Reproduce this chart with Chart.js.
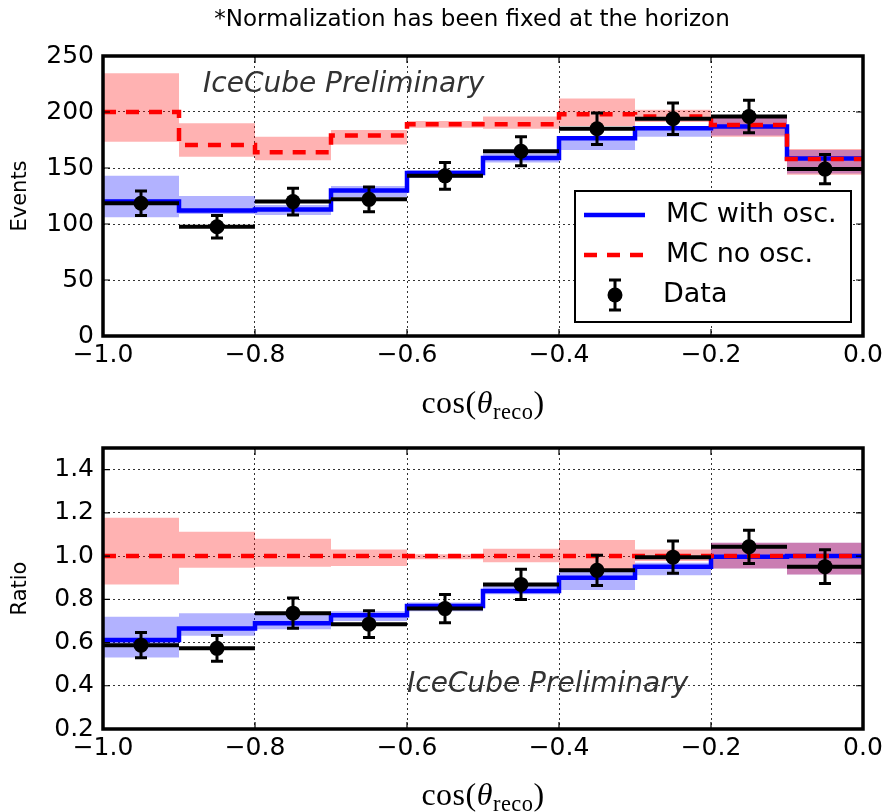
<!DOCTYPE html>
<html><head><meta charset="utf-8">
<script src="https://cdn.jsdelivr.net/npm/chart.js@4.4.1/dist/chart.umd.min.js"></script>
<style>
html,body{margin:0;padding:0;background:#fff;}
#wrap{position:relative;width:884px;height:812px;overflow:hidden;background:#fff;}
canvas{position:absolute;left:0;top:0;}
.lbl{position:absolute;white-space:nowrap;color:#000;line-height:1;}
#title{font-family:'DejaVu Sans';font-size:23px;left:472px;top:18px;transform:translate(-50%,-50%);}
.xl{font-family:'Liberation Serif';font-size:32px;letter-spacing:0.5px;transform:translate(-50%,-50%);left:483px;}
.xl sub{font-size:0.7em;vertical-align:-0.25em;line-height:0;}
</style></head>
<body><div id="wrap">
<canvas id="c1" width="884" height="812"></canvas>
<canvas id="c2" width="884" height="812"></canvas>
<div id="title" class="lbl">*Normalization has been fixed at the horizon</div>
<div class="lbl xl" style="top:402px">cos(<i>θ</i><sub>reco</sub>)</div>
<div class="lbl xl" style="top:794px">cos(<i>θ</i><sub>reco</sub>)</div>
</div>
<script>
// ---------- data ----------
const binEdges = [-1.0,-0.9,-0.8,-0.7,-0.6,-0.5,-0.4,-0.3,-0.2,-0.1,0.0];
const xTickValues = [-1.0,-0.8,-0.6,-0.4,-0.2,0.0];
const xTickLabels = ['\u22121.0','\u22120.8','\u22120.6','\u22120.4','\u22120.2','0.0'];
const eventsTickValues = [0,50,100,150,200,250];
const eventsTickLabels = ['0','50','100','150','200','250'];
const ratioTickValues = [0.2,0.4,0.6,0.8,1.0,1.2,1.4];
const ratioTickLabels = ['0.2','0.4','0.6','0.8','1.0','1.2','1.4'];

const mcOsc      = [120,112,113,130,145.5,159,176.5,185.5,187,158.5];
const mcOscLo    = [106,109,108,124,141,155,166,178,179,145];
const mcOscHi    = [143,125,117,134,148,163,178,187,195,166];
const mcNoOsc    = [200,170.5,164,179,189,189,198,196,188.5,158];
const mcNoOscLo  = [173.5,160,157,171,186,185,187.5,191,178,144];
const mcNoOscHi  = [234.5,190,178,184,192,196,212,202,197,167];
const dataEvents    = [118.5,97.5,120,122,143,165,185,194,196,149];
const dataEventsErr = [11,10,12,11,12,13,14,14,14.5,13];

const ratioOsc      = [0.612,0.665,0.689,0.726,0.769,0.838,0.900,0.951,0.997,1.0];
const ratioOscLo    = [0.531,0.631,0.662,0.700,0.745,0.823,0.843,0.911,0.942,0.915];
const ratioOscHi    = [0.719,0.736,0.736,0.745,0.785,0.869,0.938,0.969,1.062,1.062];
const ratioNoOsc    = [1,1,1,1,1,1,1,1,1,1];
const ratioNoOscLo  = [0.869,0.946,0.951,0.954,0.985,0.972,0.940,0.977,0.942,0.915];
const ratioNoOscHi  = [1.177,1.113,1.080,1.031,1.008,1.034,1.074,1.031,1.062,1.062];
const ratioData     = [0.588,0.573,0.736,0.685,0.757,0.869,0.934,0.995,1.043,0.951];
const ratioDataErr  = [0.058,0.060,0.070,0.062,0.065,0.070,0.070,0.075,0.077,0.078];

// ---------- helpers ----------
const FONT = 'DejaVu Sans';
const centers = binEdges.slice(0,-1).map((e,i)=>(e+binEdges[i+1])/2);
function stepPts(vals){
  const p = vals.map((v,i)=>({x:binEdges[i], y:v}));
  p.push({x:binEdges[binEdges.length-1], y:vals[vals.length-1]});
  return p;
}
function bandPts(lo,hi){ return lo.map((l,i)=>({x:centers[i], y:[l,hi[i]]})); }
function pts(vals){ return vals.map((v,i)=>({x:centers[i], y:v})); }

const framePlugin = {
  id: 'frame',
  beforeDatasetDraw(chart, args) {
    const ds = chart.data.datasets[args.index];
    if (!ds.errorBars) return;
    const {ctx} = chart; const x = chart.scales.x, y = chart.scales.y;
    ctx.save();
    ctx.strokeStyle = '#000'; ctx.lineCap = 'butt';
    ds.data.forEach((p,i)=>{
      const px = x.getPixelForValue(p.x);
      const x0 = x.getPixelForValue(binEdges[i]), x1 = x.getPixelForValue(binEdges[i+1]);
      const py = y.getPixelForValue(p.y);
      const ylo = y.getPixelForValue(p.y - ds.errorBars[i]);
      const yhi = y.getPixelForValue(p.y + ds.errorBars[i]);
      ctx.lineWidth = 4;
      ctx.beginPath(); ctx.moveTo(x0,py); ctx.lineTo(x1,py); ctx.stroke();
      ctx.lineWidth = 3;
      ctx.beginPath(); ctx.moveTo(px,ylo); ctx.lineTo(px,yhi);
      ctx.moveTo(px-6,ylo); ctx.lineTo(px+6,ylo);
      ctx.moveTo(px-6,yhi); ctx.lineTo(px+6,yhi); ctx.stroke();
    });
    ctx.restore();
  },
  afterDatasetsDraw(chart, args, opts) {
    const {ctx, chartArea:a} = chart; const x = chart.scales.x, y = chart.scales.y;
    ctx.save();
    // inward ticks
    ctx.strokeStyle = '#000'; ctx.lineWidth = 1.2;
    ctx.beginPath();
    x.ticks.forEach(t=>{ const px = x.getPixelForValue(t.value);
      ctx.moveTo(px,a.top); ctx.lineTo(px,a.top+7); ctx.moveTo(px,a.bottom); ctx.lineTo(px,a.bottom-7); });
    y.ticks.forEach(t=>{ const py = y.getPixelForValue(t.value);
      ctx.moveTo(a.left,py); ctx.lineTo(a.left+7,py); ctx.moveTo(a.right,py); ctx.lineTo(a.right-7,py); });
    ctx.stroke();
    // frame
    ctx.lineWidth = 3.5; ctx.strokeRect(a.left, a.top, a.right-a.left, a.bottom-a.top);
    // preliminary label
    ctx.fillStyle = '#333';
    ctx.font = 'italic 28px "' + FONT + '"';
    ctx.textBaseline = 'middle'; ctx.textAlign = 'left';
    ctx.fillText(opts.label, a.left + opts.lx, a.top + opts.ly);
    // legend
    if (opts.legend) {
      const bx = a.right - 288, by = a.top + 135, bw = 276, bh = 131;
      ctx.fillStyle = '#fff'; ctx.fillRect(bx,by,bw,bh);
      ctx.strokeStyle = '#000'; ctx.lineWidth = 2; ctx.strokeRect(bx,by,bw,bh);
      const rows = [by+24, by+64, by+104];
      ctx.lineWidth = 4.5;
      ctx.strokeStyle = '#0000ff'; ctx.beginPath(); ctx.moveTo(bx+9,rows[0]); ctx.lineTo(bx+70,rows[0]); ctx.stroke();
      ctx.strokeStyle = '#ff0000'; ctx.setLineDash([13,10]); ctx.beginPath(); ctx.moveTo(bx+9,rows[1]); ctx.lineTo(bx+70,rows[1]); ctx.stroke();
      ctx.setLineDash([]);
      const mx = bx+40, my = rows[2];
      ctx.strokeStyle = '#000'; ctx.lineWidth = 3;
      ctx.beginPath(); ctx.moveTo(mx,my-15); ctx.lineTo(mx,my+15);
      ctx.moveTo(mx-6,my-15); ctx.lineTo(mx+6,my-15); ctx.moveTo(mx-6,my+15); ctx.lineTo(mx+6,my+15); ctx.stroke();
      ctx.fillStyle = '#000'; ctx.beginPath(); ctx.arc(mx,my,7.5,0,Math.PI*2); ctx.fill();
      ctx.font = '27px "' + FONT + '"'; ctx.fillStyle = '#000'; ctx.textAlign = 'left';
      ctx.fillText(opts.legendLabels[0], bx+91, rows[0]);
      ctx.fillText(opts.legendLabels[1], bx+91, rows[1]);
      ctx.fillText(opts.legendLabels[2], bx+88, rows[2]);
    }
    ctx.restore();
  }
};

function makeChart(id, cfg) {
  const xAxisH = 40;
  return new Chart(document.getElementById(id), {
    type: 'line',
    data: { datasets: [
      { type:'scatter', label:'Data', data: pts(cfg.data), errorBars: cfg.err, order:0,
        pointRadius:7.5, pointHoverRadius:7.5, backgroundColor:'#000', borderWidth:0, showLine:false },
      { label:'MC no osc.', data: stepPts(cfg.noOsc), stepped:true, order:1,
        borderColor:'#ff0000', borderWidth:4.5, borderDash:[13,10], pointRadius:0, fill:false },
      { label:'MC with osc.', data: stepPts(cfg.osc), stepped:true, order:2,
        borderColor:'#0000ff', borderWidth:4.5, pointRadius:0, fill:false },
      { type:'bar', label:'no osc band', data: bandPts(cfg.noOscLo, cfg.noOscHi), order:3, grouped:false,
        backgroundColor:'rgba(255,0,0,0.3)', borderWidth:0, barPercentage:1, categoryPercentage:1, inflateAmount:0 },
      { type:'bar', label:'osc band', data: bandPts(cfg.oscLo, cfg.oscHi), order:4, grouped:false,
        backgroundColor:'rgba(0,0,255,0.3)', borderWidth:0, barPercentage:1, categoryPercentage:1, inflateAmount:0 }
    ]},
    options: {
      responsive:false, animation:false, devicePixelRatio:1,
      layout: { padding: { left:0, right:21, top: cfg.top, bottom: 812 - cfg.bottom - xAxisH } },
      plugins: { legend:{display:false}, tooltip:{enabled:false},
        frame: { label:'IceCube Preliminary', lx: cfg.lx, ly: cfg.ly, legend: cfg.legend,
                 legendLabels:['MC with osc.','MC no osc.','Data'] } },
      scales: {
        x: { type:'linear', min:-1, max:0, offset:false,
          afterBuildTicks: s => { s.ticks = xTickValues.map(v=>({value:v})); },
          afterFit: s => { s.height = xAxisH; s.paddingLeft = 0; s.paddingRight = 0; },
          grid: { offset:false, color:'rgba(0,0,0,0.8)', lineWidth:1, drawTicks:false },
          border: { display:false, dash:[2,3] },
          ticks: { autoSkip:false, maxRotation:0, padding:4, color:'#000',
            font:{family:FONT, size:25}, callback:(v,i)=>xTickLabels[i] } },
        y: { type:'linear', min:cfg.ymin, max:cfg.ymax,
          afterBuildTicks: s => { s.ticks = cfg.yTicks.map(v=>({value:v})); },
          afterFit: s => { s.width = 103; s.paddingTop = 0; s.paddingBottom = 0; },
          grid: { color:'rgba(0,0,0,0.8)', lineWidth:1, drawTicks:false },
          border: { display:false, dash:[2,3] },
          title: { display:true, text:cfg.ytitle, color:'#000', font:{family:FONT, size:21}, padding:{top:8,bottom:0} },
          ticks: { autoSkip:false, padding:9, color:'#000', font:{family:FONT, size:25},
            callback:(v,i)=>cfg.yLabels[i] } }
      }
    },
    plugins: [framePlugin]
  });
}

makeChart('c1', { top:56, bottom:336, ymin:0, ymax:250, yTicks:eventsTickValues, yLabels:eventsTickLabels,
  ytitle:'Events', lx:100, ly:29, legend:true,
  data:dataEvents, err:dataEventsErr, osc:mcOsc, oscLo:mcOscLo, oscHi:mcOscHi,
  noOsc:mcNoOsc, noOscLo:mcNoOscLo, noOscHi:mcNoOscHi });
makeChart('c2', { top:448, bottom:729, ymin:0.2, ymax:1.5, yTicks:ratioTickValues, yLabels:ratioTickLabels,
  ytitle:'Ratio', lx:304, ly:237, legend:false,
  data:ratioData, err:ratioDataErr, osc:ratioOsc, oscLo:ratioOscLo, oscHi:ratioOscHi,
  noOsc:ratioNoOsc, noOscLo:ratioNoOscLo, noOscHi:ratioNoOscHi });
</script>
</body></html>
